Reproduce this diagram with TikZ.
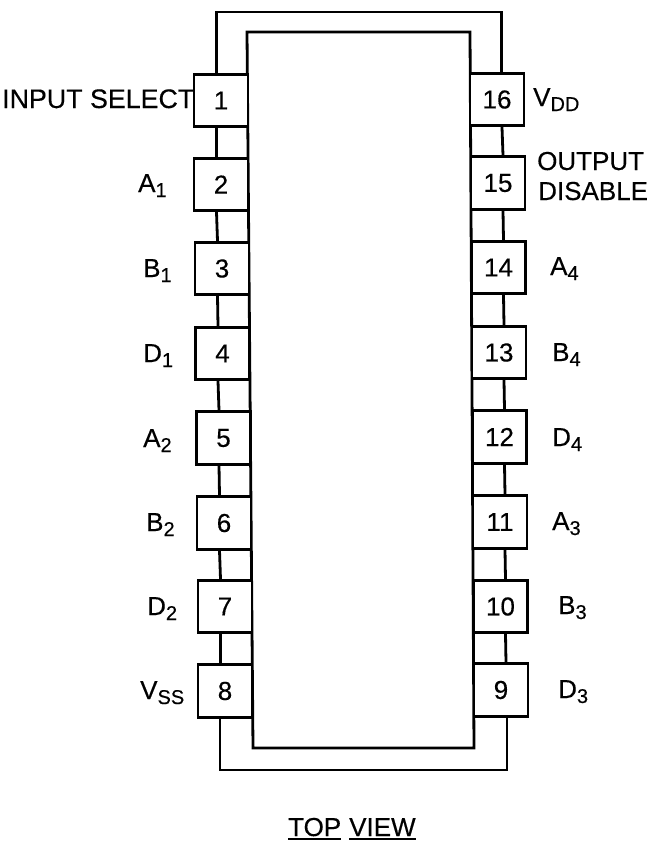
\documentclass[tikz,border=0pt]{standalone}
\usepackage{fontspec}
\setmainfont{Liberation Sans}[FakeBold=0.35]
\newcommand{\lowsub}[1]{\raisebox{-5pt}{\fontsize{20}{22}\selectfont #1}}
\tikzset{
  x=1pt,y=-1pt,
  wire/.style={line width=2.8pt,line join=miter,black},
  pinbox/.style={draw,line width=2.8pt,minimum width=54pt,minimum height=52.5pt,inner sep=0pt,font=\fontsize{26}{30}\selectfont,text=black,fill=white},
  lab/.style={anchor=base west,inner sep=0pt,font=\fontsize{26}{30}\selectfont,text=black},
}
\begin{document}
\begin{tikzpicture}
\useasboundingbox (0,0) rectangle (651,841);
% package body
\coordinate (bTL) at (247,32);
\coordinate (bTR) at (470,32);
\coordinate (bBR) at (474,748);
\coordinate (bBL) at (253,748);
\draw[wire] (bTL) -- (bTR) -- (bBR) -- (bBL) -- cycle;
% lead frame coordinates
\coordinate (oTL) at (216.5,12);
\coordinate (oTR) at (501.5,12);
\coordinate (oBL) at (220,770);
\coordinate (oBR) at (507,770);
% pins
\foreach \n/\xx/\yy in {1/221/100.5,2/221/184.5,3/222/268.5,4/222.5/353.5,5/223.5/438,6/224/523,7/225/606.5,8/225/691,
  16/497/99.5,15/498/183,14/498.5/267.5,13/499/352.5,12/499.5/437,11/500/522,10/500.5/606.5,9/501/690}{
  \node[pinbox] (p\n) at (\xx,\yy) {\n};
}
\foreach \a/\b in {1/2,2/3,3/4,4/5,5/6,6/7,7/8}{
  \draw[wire] ([xshift=-4.5pt]p\a.south) -- ([xshift=-4.5pt]p\b.north);
}
\foreach \a/\b in {16/15,15/14,14/13,13/12,12/11,11/10,10/9}{
  \draw[wire] ([xshift=5pt]p\a.south) -- ([xshift=5pt]p\b.north);
}
\draw[wire] (p1.north -| oTL) -- (oTL) -- (oTR) -- (p16.north -| oTR);
\draw[wire] (p8.south -| oBL) -- (oBL) -- (oBR) -- (p9.south -| oBR);
% labels
\node[lab,font=\fontsize{26.8}{30}\selectfont] (l1) at (2,108) {INPUT SELECT};
\node[lab] (l2) at (138,192) {A\lowsub{1}};
\node[lab] (l3) at (143,277) {B\lowsub{1}};
\node[lab] (l4) at (143,362) {D\lowsub{1}};
\node[lab] (l5) at (143,447) {A\lowsub{2}};
\node[lab] (l6) at (146,531) {B\lowsub{2}};
\node[lab] (l7) at (147,615) {D\lowsub{2}};
\node[lab] (l8) at (140,699) {V\lowsub{SS}};
\node[lab] (l16) at (533,106) {V\lowsub{DD}};
\node[lab] (l15a) at (537,170) {OUTPUT};
\node[lab] (l15b) at (538,200) {DISABLE};
\node[lab] (l14) at (550,275) {A\lowsub{4}};
\node[lab] (l13) at (552,361) {B\lowsub{4}};
\node[lab] (l12) at (552,446) {D\lowsub{4}};
\node[lab] (l11) at (552,530) {A\lowsub{3}};
\node[lab] (l10) at (558,614) {B\lowsub{3}};
\node[lab] (l9) at (558,698) {D\lowsub{3}};
\node[lab] (top) at (288,836) {TOP};
\node[lab] (view) at (349,836) {VIEW};
\draw[line width=1.4pt] ([yshift=-3pt]top.base west) -- ([yshift=-3pt]top.base east);
\draw[line width=1.4pt] ([yshift=-3pt]view.base west) -- ([yshift=-3pt]view.base east);
\end{tikzpicture}
\end{document}
